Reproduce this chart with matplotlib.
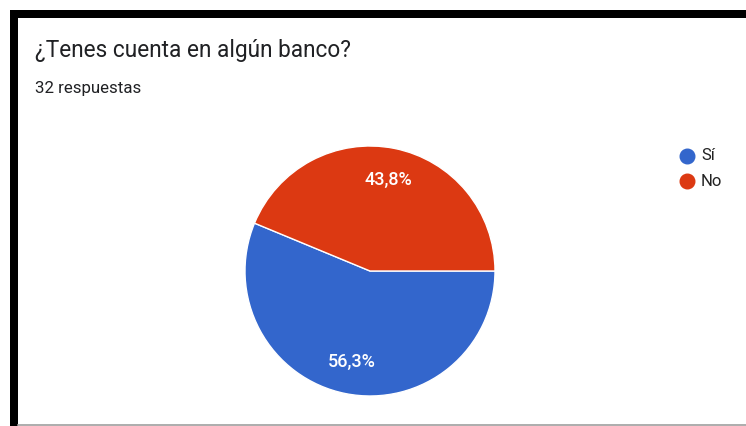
import matplotlib
matplotlib.use("Agg")
import numpy as np
import matplotlib.pyplot as plt
from matplotlib.patches import Rectangle
from matplotlib.lines import Line2D

plt.rcParams['font.family'] = ['Roboto', 'DejaVu Sans']

title = "¿Tenes cuenta en algún banco?"
subtitle = "32 respuestas"
categories = ["Sí", "No"]
values = [18, 14]
pct_labels = ["56,3%", "43,8%"]
colors = ["#3366CC", "#DC3912"]

W, H = 746, 426
fig = plt.figure(figsize=(W / 100, H / 100), dpi=100)
fig.patch.set_facecolor("white")

def fx(x):
    return x / W

def fy(y):
    return 1 - y / H

# black frame
fig.add_artist(Rectangle((fx(10), fy(18)), 1, 8 / H, transform=fig.transFigure,
                         color="black", lw=0))
fig.add_artist(Rectangle((fx(10), 0), 8 / W, fy(10), transform=fig.transFigure,
                         color="black", lw=0))
fig.add_artist(Line2D([fx(18), 1], [fy(424.5), fy(424.5)], transform=fig.transFigure,
                      color="#9e9e9e", lw=1.2))

fig.text(fx(35), fy(57.5), title, fontsize=16.3, color="#202124", va="baseline", ha="left")
fig.text(fx(35), fy(93), subtitle, fontsize=12.2, color="#202124", va="baseline", ha="left")

cx, cy, r = 370, 271, 125
ax = fig.add_axes([fx(cx - r), fy(cy + r), 2 * r / W, 2 * r / H])
wedges, _ = ax.pie(values, colors=colors, startangle=0, counterclock=False,
                   wedgeprops=dict(edgecolor="white", linewidth=1.0))
for w, lab in zip(wedges, pct_labels):
    ang = np.deg2rad((w.theta1 + w.theta2) / 2)
    ax.text(0.74 * np.cos(ang), 0.74 * np.sin(ang), lab, color="white",
            fontsize=13, fontweight="medium", ha="center", va="center")
ax.set_xlim(-1, 1)
ax.set_ylim(-1, 1)
ax.set_aspect("equal")
ax.axis("off")

# legend
for i, (cat, col) in enumerate(zip(categories, colors)):
    y = 156 + i * 25
    fig.add_artist(Line2D([fx(687)], [fy(y)], marker="o", markersize=10.5, color=col,
                          transform=fig.transFigure, lw=0))
    fig.text(fx(701), fy(y), cat, fontsize=12, color="#222222", va="center", ha="left")

fig.savefig("out.png", dpi=100)
